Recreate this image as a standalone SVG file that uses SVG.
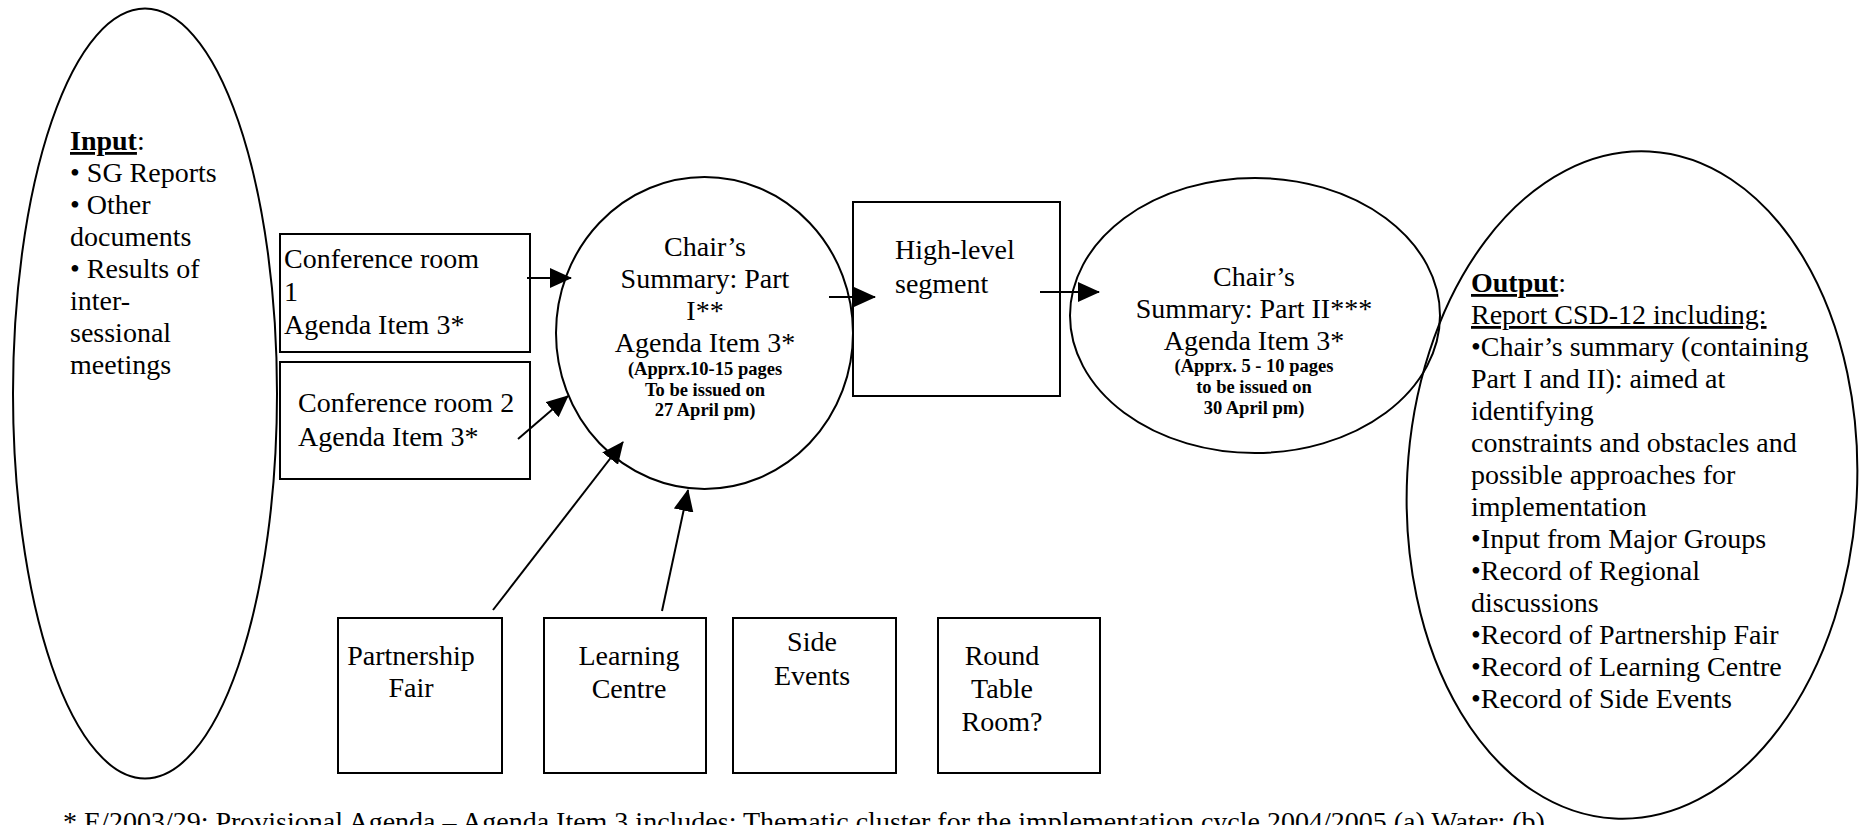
<svg xmlns="http://www.w3.org/2000/svg" width="1864" height="825" viewBox="0 0 1864 825">
<style>
.sh{fill:none;stroke:#000;stroke-width:2}
.t{font-family:"Liberation Serif","Times New Roman",serif;font-size:28px;fill:#000}
.s{font-family:"Liberation Serif","Times New Roman",serif;font-size:18.5px;font-weight:bold;fill:#000}
.c{text-anchor:middle}
.b{font-weight:bold}
.u{text-decoration:underline}
.ln{stroke:#000;stroke-width:2;fill:none;marker-end:url(#ah)}
</style>
<defs>
<marker id="ah" markerWidth="22" markerHeight="20" refX="21" refY="10" orient="auto" markerUnits="userSpaceOnUse">
<path d="M0,0 L22,10 L0,20 z" fill="#000"/>
</marker>
</defs>
<rect width="1864" height="825" fill="#fff"/>

<g id="input">
<ellipse class="sh" cx="145" cy="393.5" rx="132" ry="385"/>
<text class="t" x="70" y="150"><tspan class="b u">Input</tspan>:</text>
<text class="t" x="70" y="182">• SG Reports</text>
<text class="t" x="70" y="214">• Other</text>
<text class="t" x="70" y="246">documents</text>
<text class="t" x="70" y="278">• Results of</text>
<text class="t" x="70" y="310">inter-</text>
<text class="t" x="70" y="342">sessional</text>
<text class="t" x="70" y="374">meetings</text>
</g>

<g id="conf1">
<rect class="sh" x="280" y="234" width="250" height="118"/>
<text class="t" x="284" y="268">Conference room</text>
<text class="t" x="284" y="301">1</text>
<text class="t" x="284" y="334">Agenda Item 3*</text>
</g>

<g id="conf2">
<rect class="sh" x="280" y="362" width="250" height="117"/>
<text class="t" x="298" y="412">Conference room 2</text>
<text class="t" x="298" y="446">Agenda Item 3*</text>
</g>

<g id="summary1">
<ellipse class="sh" cx="704.5" cy="333" rx="148.5" ry="156"/>
<text class="t c" x="705" y="256">Chair’s</text>
<text class="t c" x="705" y="288">Summary: Part</text>
<text class="t c" x="705" y="320">I**</text>
<text class="t c" x="705" y="352">Agenda Item 3*</text>
<text class="s c" x="705" y="375">(Apprx.10-15 pages</text>
<text class="s c" x="705" y="396">To be issued on</text>
<text class="s c" x="705" y="416">27 April pm)</text>
</g>

<g id="highlevel">
<rect class="sh" x="853" y="202" width="207" height="194"/>
<text class="t" x="895" y="259">High-level</text>
<text class="t" x="895" y="293">segment</text>
</g>

<g id="summary2">
<ellipse class="sh" cx="1255" cy="315.5" rx="185" ry="137.5"/>
<text class="t c" x="1254" y="286">Chair’s</text>
<text class="t c" x="1254" y="318">Summary: Part II***</text>
<text class="t c" x="1254" y="350">Agenda Item 3*</text>
<text class="s c" x="1254" y="372">(Apprx. 5 - 10 pages</text>
<text class="s c" x="1254" y="393">to be issued on</text>
<text class="s c" x="1254" y="414">30 April pm)</text>
</g>

<g id="output">
<ellipse class="sh" cx="1632" cy="485" rx="225" ry="334" transform="rotate(3 1632 485)"/>
<text class="t" x="1471" y="292"><tspan class="b u">Output</tspan>:</text>
<text class="t u" x="1471" y="324">Report CSD-12 including:</text>
<text class="t" x="1471" y="356">•Chair’s summary (containing</text>
<text class="t" x="1471" y="388">Part I and II): aimed at</text>
<text class="t" x="1471" y="420">identifying</text>
<text class="t" x="1471" y="452">constraints and obstacles and</text>
<text class="t" x="1471" y="484">possible approaches for</text>
<text class="t" x="1471" y="516">implementation</text>
<text class="t" x="1471" y="548">•Input from Major Groups</text>
<text class="t" x="1471" y="580">•Record of Regional</text>
<text class="t" x="1471" y="612">discussions</text>
<text class="t" x="1471" y="644">•Record of Partnership Fair</text>
<text class="t" x="1471" y="676">•Record of Learning Centre</text>
<text class="t" x="1471" y="708">•Record of Side Events</text>
</g>

<g id="partnership">
<rect class="sh" x="338" y="618" width="164" height="155"/>
<text class="t c" x="411" y="665">Partnership</text>
<text class="t c" x="411" y="697">Fair</text>
</g>

<g id="learning">
<rect class="sh" x="544" y="618" width="162" height="155"/>
<text class="t c" x="629" y="665">Learning</text>
<text class="t c" x="629" y="698">Centre</text>
</g>

<g id="side">
<rect class="sh" x="733" y="618" width="163" height="155"/>
<text class="t c" x="812" y="651">Side</text>
<text class="t c" x="812" y="685">Events</text>
</g>

<g id="roundtable">
<rect class="sh" x="938" y="618" width="162" height="155"/>
<text class="t c" x="1002" y="665">Round</text>
<text class="t c" x="1002" y="698">Table</text>
<text class="t c" x="1002" y="731">Room?</text>
</g>

<g id="connectors">
<line class="ln" x1="527" y1="278" x2="571" y2="278"/>
<line class="ln" x1="518" y1="439" x2="568" y2="396"/>
<line class="ln" x1="829" y1="297" x2="875" y2="297"/>
<line class="ln" x1="1040" y1="292" x2="1099" y2="292"/>
<line class="ln" x1="493" y1="610" x2="623" y2="442"/>
<line class="ln" x1="662" y1="611" x2="688" y2="490"/>
</g>

<g id="footnote">
<text class="t" x="63" y="831">* E/2003/29: Provisional Agenda – Agenda Item 3 includes: Thematic cluster for the implementation cycle 2004/2005 (a) Water; (b)</text>
</g>
</svg>
